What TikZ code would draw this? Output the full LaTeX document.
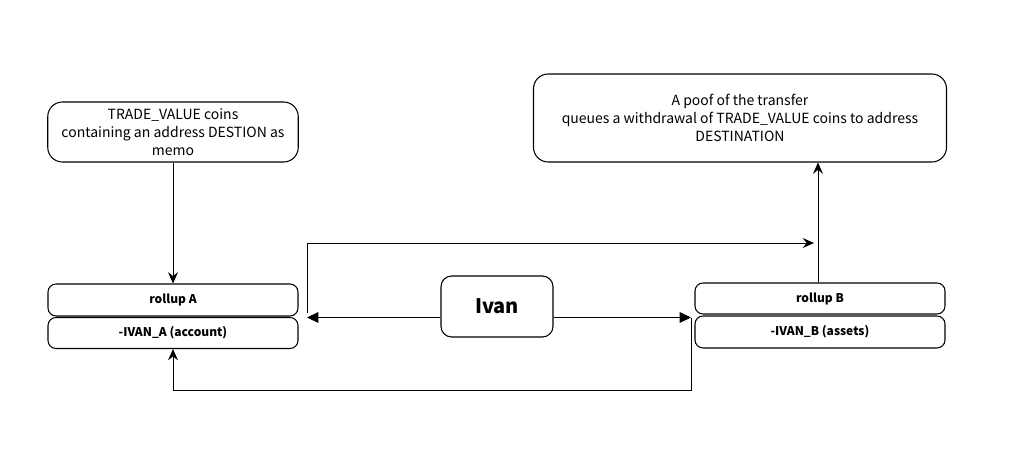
\documentclass[tikz,border=0pt]{standalone}
\usepackage{fontspec}
\setmainfont{Noto Sans CJK SC}
\usetikzlibrary{arrows.meta}
\tikzset{
  box/.style={draw, line width=0.8pt, rounded corners=6pt, align=center, inner sep=0pt, font=\fontsize{10.5}{13.5}\selectfont},
  bigbox/.style={box, rounded corners=11pt},
  rowbox/.style={box, font=\fontsize{9}{11}\selectfont\bfseries},
  conn/.style={line width=0.7pt},
  cls/.style={conn, -{Stealth[length=8.5pt,width=7.5pt,inset=3pt]}},
  blk/.style={conn, -{Triangle[length=8.5pt,width=8pt]}},
}
\begin{document}
\begin{tikzpicture}[x=0.75pt,y=-0.75pt]
\fill[white] (0,0) rectangle (1026,453);
\useasboundingbox (0,0) rectangle (1026,453);
\node[bigbox, minimum width=250.5*0.75pt, minimum height=60*0.75pt] (tl) at (173,132)
  {TRADE\_VALUE coins\\containing an address DESTION as\\memo};
\node[bigbox, minimum width=413*0.75pt, minimum height=88*0.75pt] (tr) at (740,118)
  {A poof of the transfer\\queues a withdrawal of TRADE\_VALUE coins to address\\DESTINATION};
\node[rowbox, minimum width=250*0.75pt, minimum height=32*0.75pt] (ra) at (173,300) {rollup A};
\node[rowbox, minimum width=250*0.75pt, minimum height=31*0.75pt] (ia) at (173,333) {-IVAN\_A (account)};
\node[box, rounded corners=8pt, minimum width=112*0.75pt, minimum height=61*0.75pt, font=\fontsize{15}{18}\selectfont\bfseries] (ivan) at (497,306.5) {Ivan};
\node[rowbox, minimum width=250*0.75pt, minimum height=31*0.75pt] (rb) at (820,298.5) {rollup B};
\node[rowbox, minimum width=250*0.75pt, minimum height=32*0.75pt] (ib) at (820,332) {-IVAN\_B (assets)};
\coordinate (aL) at (307,317.5);
\coordinate (aR) at (691,317.5);
\coordinate (u1) at (307,313);
\coordinate (u2) at (814,243);
\coordinate (c1) at (818,0);
\coordinate (b1) at (691,390);
\draw[cls] (tl.south) -- (ra.north);
\draw[blk] (ivan.west |- aL) -- (aL);
\draw[blk] (ivan.east |- aR) -- (aR);
\draw[cls] (u1) |- (u2);
\draw[cls] (rb.north -| c1) -- (tr.south -| c1);
\draw[cls] (aR) -- (b1) -| (ia.south);
\end{tikzpicture}
\end{document}
